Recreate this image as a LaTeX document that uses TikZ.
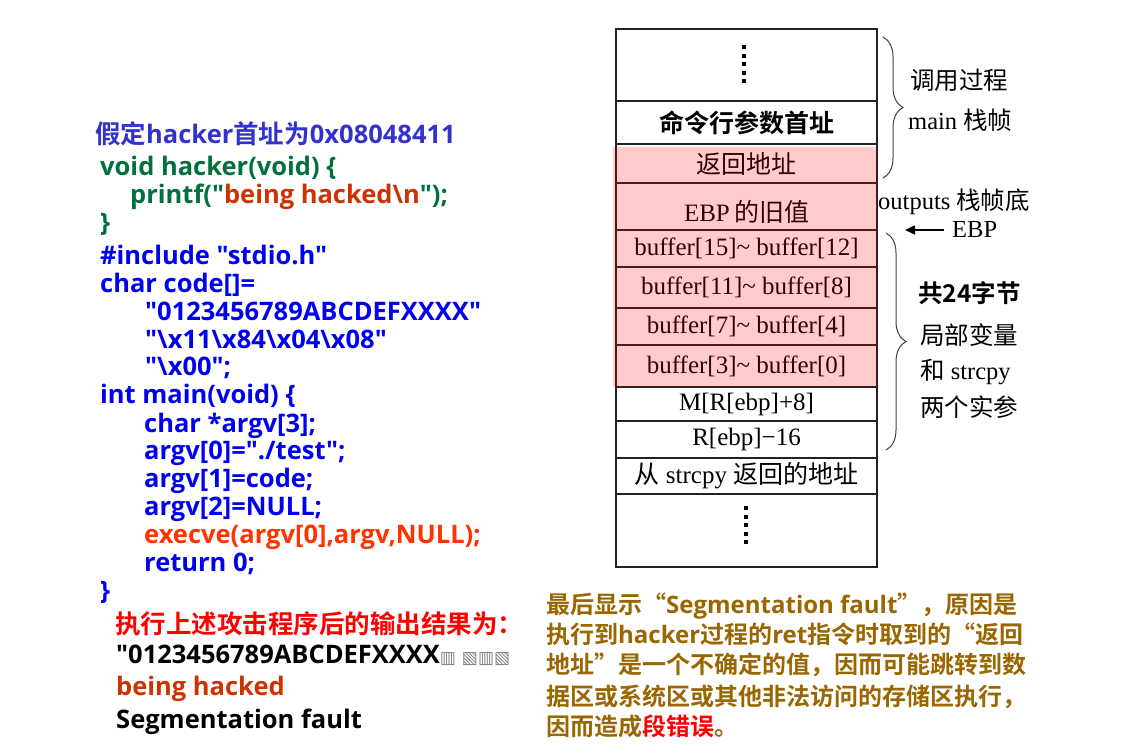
\documentclass[tikz,border=0pt]{standalone}
\usepackage{fontspec}
\usepackage{xcolor}
\setmainfont{Liberation Serif}
\newfontfamily\cjk[BoldFont={Noto Sans CJK SC Bold}]{Noto Sans CJK SC}
\newfontfamily\codefont[BoldFont={Open Sans Bold}]{Open Sans}
\newfontfamily\dejavu{DejaVu Sans}
\usetikzlibrary{positioning,arrows.meta,decorations.pathreplacing}
\definecolor{titleblue}{HTML}{3333CC}
\definecolor{codegreen}{HTML}{00703C}
\definecolor{codeblue}{HTML}{0000EE}
\definecolor{hackred}{HTML}{CC3300}
\definecolor{callred}{HTML}{FF3300}
\definecolor{notebrown}{HTML}{996600}
\definecolor{stackline}{HTML}{222222}
\newcommand{\zh}[1]{{\cjk #1}}

\tikzset{
  code/.style={anchor=base west, inner sep=0pt, font=\codefont\bfseries\fontsize{25.5}{28}\selectfont},
  why/.style={anchor=base west, inner sep=0pt, text=notebrown, font=\codefont\bfseries\fontsize{24}{28}\selectfont},
  cell/.style={draw=stackline, line width=1.3pt, minimum width=261pt, outer sep=0pt, inner sep=0pt, font=\fontsize{25}{26}\selectfont},
  side/.style={anchor=west, inner sep=0pt, font=\fontsize{24.5}{26}\selectfont},
  brace/.style={decorate, decoration={brace, amplitude=20pt}, draw=black!75, line width=1pt},
}

\begin{document}
\begin{tikzpicture}[x=1pt, y=-1pt, node distance=0pt]
    \useasboundingbox (0,0) rectangle (1139,744);

    % Code of the attack
    \node[code, text=titleblue] (addr) at (95,143) {\zh{假定}hacker\zh{首址为}0x08048411};
    \node[code, text=codegreen] (hackdef) at (100,175) {void hacker(void) \{};
    \node[code, text=codegreen] (hackbody) at (130,203) {printf("{\color{hackred}being hacked\textbackslash n}");};
    \node[code, text=codegreen] (hackend) at (100,231) {\}};
    \node[code, text=codeblue] (incl) at (100,264) {\#include "stdio.h"};
    \node[code, text=codeblue] (codedecl) at (100,292) {char code[]=};
    \node[code, text=codeblue] (codes1) at (145,320) {"0123456789ABCDEFXXXX"};
    \node[code, text=codeblue] (codes2) at (145,348) {"\textbackslash x11\textbackslash x84\textbackslash x04\textbackslash x08"};
    \node[code, text=codeblue] (codes3) at (145,375) {"\textbackslash x00";};
    \node[code, text=codeblue] (maindef) at (100,403) {int main(void) \{};
    \node[code, text=codeblue] (argvdecl) at (144,432) {char *argv[3];};
    \node[code, text=codeblue] (argv0) at (144,459) {argv[0]="./test";};
    \node[code, text=codeblue] (argv1) at (144,487) {argv[1]=code;};
    \node[code, text=codeblue] (argv2) at (144,515) {argv[2]=NULL;};
    \node[code, text=callred] (exec) at (144,543) {execve(argv[0],argv,NULL);};
    \node[code, text=codeblue] (ret) at (144,571) {return 0;};
    \node[code, text=codeblue] (mainend) at (100,599) {\}};

    % Output of the run
    \node[code, text=red] (outhead) at (115,633) {\zh{执行上述攻击程序后的输出结果为：}};
    \node[code, text=black] (out1) at (116,663) {"0123456789ABCDEFXXXX{\dejavu\fontsize{17}{17}\selectfont\color{gray}▥ ▧▥▧}};
    \node[code, text=hackred] (out2) at (116,695) {being hacked};
    \node[code, text=black] (out3) at (116,728) {Segmentation fault};

    % Explanation
    \node[why] (why1) at (546,613) {\zh{最后显示“}Segmentation fault\zh{”，原因是}};
    \node[why] (why2) at (546,643) {\zh{执行到}hacker\zh{过程的}ret\zh{指令时取到的“返回}};
    \node[why] (why3) at (546,673) {\zh{地址”是一个不确定的值，因而可能跳转到数}};
    \node[why] (why4) at (546,705) {\zh{据区或系统区或其他非法访问的存储区执行，}};
    \node[why] (why5) at (546,735) {\zh{因而造成{\color{red}段错误}。}};

    % Stack cells
    \node[cell, minimum height=72pt] (frame0) at (746.5,65) {};
    \node[cell, minimum height=43pt, below=of frame0] (argsaddr) {\bfseries\zh{命令行参数首址}};
    \node[cell, minimum height=39pt, below=of argsaddr] (retaddr) {\zh{返回地址}};
    \node[cell, minimum height=47pt, text height=29pt, text depth=0pt, below=of retaddr] (oldebp) {EBP\,\zh{的旧值}};
    \node[cell, minimum height=37pt, below=of oldebp] (buf15) {buffer[15]\textasciitilde{} buffer[12]};
    \node[cell, minimum height=41pt, below=of buf15] (buf11) {buffer[11]\textasciitilde{} buffer[8]};
    \node[cell, minimum height=37pt, below=of buf11] (buf7) {buffer[7]\textasciitilde{} buffer[4]};
    \node[cell, minimum height=42pt, below=of buf7] (buf3) {buffer[3]\textasciitilde{} buffer[0]};
    \node[cell, minimum height=34pt, below=of buf3] (arg2) {M[R[ebp]+8]};
    \node[cell, minimum height=37pt, below=of arg2] (arg1) {R[ebp]−16};
    \node[cell, minimum height=36pt, below=of arg1] (strcpyret) {\zh{从} strcpy \zh{返回的地址}};
    \node[cell, minimum height=73pt, below=of strcpyret] (frame1) {};

    % dots
    \foreach \k in {0,...,4} {
        \fill (742,45+8.6*\k) rectangle +(4,4);
        \fill (744,506+8.6*\k) rectangle +(4,4);
    }

    % overflowed part
    \fill[red, fill opacity=0.2] (613,147) rectangle (877,387);

    % Braces and side notes
    \draw[brace] (883,37) -- (883,178);
    \draw[brace] (886,233) -- (886,450);

    \node[side] (callframe) at (910,80) {\zh{调用过程}};
    \node[side] (mainframe) at (908,120) {main \zh{栈帧}};
    \node[side] (framebase) at (878,202) {outputs \zh{栈帧底}};
    \node[side] (ebp) at (952,230) {EBP};
    \coordinate (ebptip) at (905,230);
    \draw[-{Triangle[length=10pt,width=9pt]}, line width=1.6pt] (ebp.west) ++(-8,0) -- (ebptip);

    \node[side] (bytes) at (918,293) {\cjk\bfseries 共24字节};
    \node[side] (locals1) at (920,335) {\zh{局部变量}};
    \node[side] (locals2) at (920,372) {\zh{和} strcpy};
    \node[side] (locals3) at (920,407) {\zh{两个实参}};
\end{tikzpicture}
\end{document}
